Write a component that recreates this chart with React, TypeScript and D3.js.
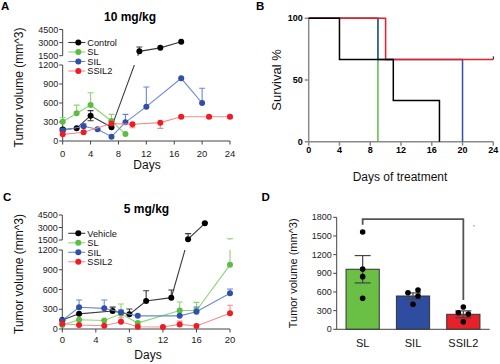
import React from 'react';
import * as d3 from 'd3';

const FONT = "'Liberation Sans', Arial, Helvetica, sans-serif";

// ---- Panel A: 10 mg/kg (tumor volume, mm^3) ----
const aControlDays = [0, 2, 4, 7, 11, 14, 17];
const aControlVals = [180, 200, 400, 216, 2000, 2400, 3100];
const aControlUp = [20, 0, 80, 100, 500, 0, 0];
const aControlDn = [20, 0, 80, 0, 0, 0, 0];

const aSLDays = [0, 2, 4, 7, 9];
const aSLVals = [305, 437, 568, 316, 110];
const aSLUp = [63, 130, 195, 105, 0];
const aSLDn = [0, 0, 0, 0, 0];

const aSILDays = [0, 3, 5, 7, 9, 12, 17, 20];
const aSILVals = [165, 232, 185, 68, 295, 542, 990, 600];
const aSILUp = [0, 40, 0, 0, 125, 310, 0, 232];
const aSILDn = [0, 0, 0, 0, 0, 0, 0, 0];

const aSSIL2Days = [0, 3, 7, 10, 14, 17, 21, 24];
const aSSIL2Vals = [105, 137, 275, 264, 290, 384, 384, 384];
const aSSIL2Up = [0, 0, 0, 0, 0, 15, 15, 15];
const aSSIL2Dn = [0, 0, 0, 54, 90, 25, 25, 25];

// ---- Panel C: 5 mg/kg ----
const cVehicleDays = [0, 2, 6, 8, 10, 13, 15, 17];
const cVehicleVals = [137, 230, 273, 223, 425, 476, 1600, 3500];
const cVehicleUp = [0, 0, 60, 80, 157, 116, 660, 100];
const cVehicleDn = [0, 0, 0, 0, 0, 0, 0, 0];

const cSLDays = [0, 2, 5, 7, 9, 14, 16, 20];
const cSLVals = [60, 140, 130, 230, 90, 280, 280, 975];
const cSLUp = [0, 0, 0, 150, 0, 130, 125, 680];
const cSLDn = [0, 0, 0, 0, 0, 0, 0, 0];

const cSILDays = [0, 2, 5, 7, 9, 14, 16, 20];
const cSILVals = [130, 330, 314, 254, 200, 200, 263, 542];
const cSILUp = [0, 110, 126, 35, 0, 0, 70, 65];
const cSILDn = [0, 0, 0, 0, 0, 0, 0, 0];

const cSSIL2Days = [0, 2, 5, 7, 9, 12, 14, 16, 20];
const cSSIL2Vals = [80, 60, 50, 110, 35, 30, 70, 45, 240];
const cSSIL2Up = [0, 0, 0, 60, 0, 0, 50, 0, 120];
const cSSIL2Dn = [0, 0, 0, 0, 0, 0, 0, 0, 0];

// ---- Panel B: survival (%) ----
const bControlDays = [0, 4, 11, 17];
const bControlSurv = [100, 66.7, 33.3, 0];
const bSLDays = [0, 9];
const bSLSurv = [100, 0];
const bSILDays = [0, 9, 20];
const bSILSurv = [100, 66.7, 0];
const bSSIL2Days = [0, 10, 24];
const bSSIL2Surv = [100, 66.7, 66.7];

// ---- Panel D: endpoint tumor volume ----
const dGroups = ['SL', 'SIL', 'SSIL2'];
const dMeans = [965, 535, 241];
const dSem = [220, 50, 55];
const dPoints = [
  [1564, 970, 846, 498],
  [588, 632, 535, 402],
  [358, 267, 246, 122],
];
const dJitter = [
  [0, 0, 0, 0],
  [-1, 1, 1, 0],
  [0, -1, 1, 0],
];
// bracket levels in data units
const dBracketTop = 1770;
const dBracketLeftEnd = 1680;
const dBracketRightEnd = 470;

const lowTicks = [0, 300, 600, 900, 1200];
const upTicks = [1500, 3000, 4500];

const COL = {
  black: { marker: '#000000', line: '#3a3a3a' },
  green: { marker: '#5cbc45', line: '#8fd372' },
  blue: { marker: '#2f4fa8', line: '#6d86cf' },
  red: { marker: '#ee1c25', line: '#f48a8a' },
};

const mk = (name, c, days, vals, up, dn) => ({ name, ...c, days, vals, up, dn });

const seriesA = [
  mk('Control', COL.black, aControlDays, aControlVals, aControlUp, aControlDn),
  mk('SL', COL.green, aSLDays, aSLVals, aSLUp, aSLDn),
  mk('SIL', COL.blue, aSILDays, aSILVals, aSILUp, aSILDn),
  mk('SSIL2', COL.red, aSSIL2Days, aSSIL2Vals, aSSIL2Up, aSSIL2Dn),
];
const seriesC = [
  mk('Vehicle', COL.black, cVehicleDays, cVehicleVals, cVehicleUp, cVehicleDn),
  mk('SL', COL.green, cSLDays, cSLVals, cSLUp, cSLDn),
  mk('SIL', COL.blue, cSILDays, cSILVals, cSILUp, cSILDn),
  mk('SSIL2', COL.red, cSSIL2Days, cSSIL2Vals, cSSIL2Up, cSSIL2Dn),
];

const AXIS = '#444';

const LinePanel = (p: any) => {
  const x = d3.scaleLinear().domain(p.xDomain).range(p.xRange);
  const yLow = d3.scaleLinear().domain([0, 1200]).range(p.lowRange);
  const yUp = d3.scaleLinear().domain([1500, 4500]).range(p.upRange);
  const y = (v: number) =>
    v <= 1200 ? yLow(v) : v >= 1500 ? yUp(v) : yLow(1200) + ((v - 1200) / 300) * (yUp(1500) - yLow(1200));
  const line = d3.line<number[]>().x(d => x(d[0])).y(d => y(d[1]));
  const x0 = p.xRange[0];
  const gapTop = yUp(1500);
  const gapBot = yLow(1200);
  const base = yLow(0);

  return (
    <g fontFamily={FONT}>
      <defs>
        <clipPath id={p.id}>
          <rect x={0} y={0} width={500} height={gapTop} />
          <rect x={0} y={gapBot} width={500} height={364 - gapBot} />
        </clipPath>
      </defs>
      <text x={p.letterX} y={p.letterY} fontSize={11.5} fontWeight="bold">{p.letter}</text>
      <text x={p.titleX} y={p.titleY} fontSize={12} fontWeight="bold" textAnchor="middle">{p.title}</text>

      {/* y axis lower segment */}
      <line x1={x0} x2={x0} y1={base} y2={gapBot} stroke={AXIS} strokeWidth={1} />
      {lowTicks.map(t => (
        <g key={'l' + t}>
          <line x1={x0 - 3.5} x2={x0} y1={yLow(t)} y2={yLow(t)} stroke={AXIS} />
          <text x={x0 - 4.5} y={yLow(t)} dy="0.35em" fontSize={9} textAnchor="end" fill="#222">{t}</text>
        </g>
      ))}
      {/* y axis upper segment */}
      <line x1={x0} x2={x0} y1={gapTop} y2={yUp(4500)} stroke={AXIS} strokeWidth={1} />
      {upTicks.map(t => (
        <g key={'u' + t}>
          <line x1={x0 - 3.5} x2={x0} y1={yUp(t)} y2={yUp(t)} stroke={AXIS} />
          <text x={x0 - 4.5} y={yUp(t)} dy="0.35em" fontSize={9} textAnchor="end" fill="#222">{t}</text>
        </g>
      ))}
      {/* x axis */}
      <line x1={x0} x2={p.xRange[1]} y1={base} y2={base} stroke={AXIS} />
      {p.xTicks.map(t => (
        <g key={'x' + t}>
          <line x1={x(t)} x2={x(t)} y1={base} y2={base + 3.5} stroke={AXIS} />
          <text x={x(t)} y={base + p.tickDy} fontSize={9.5} textAnchor="middle" fill="#222">{t}</text>
        </g>
      ))}
      <text x={p.xLabelX} y={p.xLabelY} fontSize={12} textAnchor="middle" fill="#111">Days</text>
      <text
        transform={`translate(${p.yLabelX},${p.yLabelY}) rotate(-90)`}
        fontSize={12}
        textAnchor="middle"
        dy="0.35em"
        fill="#111"
      >
        Tumor volume (mm^3)
      </text>

      {p.series.map(s => {
        const pts = s.days.map((d, i) => [d, s.vals[i]]);
        return (
          <g key={s.name}>
            <path d={line(pts) || ''} fill="none" stroke={s.line} strokeWidth={1.1} clipPath={`url(#${p.id})`} />
            <g clipPath={`url(#${p.id})`}>
              {s.days.map((d, i) => {
                const up = s.up[i];
                const dn = s.dn[i];
                if (!up && !dn) return null;
                const cx = x(d);
                const yt = y(s.vals[i] + up);
                const yb = y(s.vals[i] - dn);
                return (
                  <g key={i} stroke={s.line} strokeWidth={1.1}>
                    <line x1={cx} x2={cx} y1={yt} y2={yb} />
                    {up ? <line x1={cx - 3} x2={cx + 3} y1={yt} y2={yt} /> : null}
                    {dn ? <line x1={cx - 3} x2={cx + 3} y1={yb} y2={yb} /> : null}
                  </g>
                );
              })}
            </g>
            {s.days.map((d, i) => (
              <circle key={i} cx={x(d)} cy={y(s.vals[i])} r={3} fill={s.marker} />
            ))}
          </g>
        );
      })}

      {/* legend */}
      {p.series.map((s, i) => {
        const ly = p.legendY + i * p.legendStep;
        return (
          <g key={'lg' + s.name}>
            <line x1={p.legendX - 10} x2={p.legendX + 7} y1={ly} y2={ly} stroke={s.line} strokeWidth={1.1} />
            <circle cx={p.legendX} cy={ly} r={3} fill={s.marker} />
            <text x={p.legendX + 9} y={ly} dy="0.35em" fontSize={9.2} fill="#111">{s.name}</text>
          </g>
        );
      })}
    </g>
  );
};

const SurvivalPanel = () => {
  const x = d3.scaleLinear().domain([0, 24]).range([308.7, 493.3]);
  const y = d3.scaleLinear().domain([0, 100]).range([141.7, 18.3]);
  const step = d3.line<number[]>().x(d => x(d[0])).y(d => y(d[1])).curve(d3.curveStepAfter);
  const curves = [
    { color: '#5cbc45', days: bSLDays, surv: bSLSurv, end: 9 },
    { color: '#2f4fa8', days: bSILDays, surv: bSILSurv, end: 20 },
    { color: '#ee1c25', days: bSSIL2Days, surv: bSSIL2Surv, end: 24 },
    { color: '#000000', days: bControlDays, surv: bControlSurv, end: 17 },
  ];
  const ax = '#8a8a8a';
  return (
    <g fontFamily={FONT}>
      <text x={256} y={10} fontSize={11.5} fontWeight="bold">B</text>
      <line x1={x(0)} x2={x(0)} y1={y(0)} y2={y(100)} stroke={ax} strokeWidth={1.5} />
      <line x1={x(0)} x2={x(24)} y1={y(0)} y2={y(0)} stroke={ax} strokeWidth={1.5} />
      {[0, 50, 100].map(t => (
        <g key={'y' + t}>
          <line x1={x(0) - 4} x2={x(0)} y1={y(t)} y2={y(t)} stroke={ax} strokeWidth={1.5} />
          <text x={x(0) - 6} y={y(t)} dy="0.35em" fontSize={9} fontWeight="bold" textAnchor="end">{t}</text>
        </g>
      ))}
      {d3.range(0, 25, 4).map(t => (
        <g key={'x' + t}>
          <line x1={x(t)} x2={x(t)} y1={y(0)} y2={y(0) + 4} stroke={ax} strokeWidth={1.5} />
          <text x={x(t)} y={153} fontSize={9} fontWeight="bold" textAnchor="middle">{t}</text>
        </g>
      ))}
      {curves.map((c, i) => {
        const pts = c.days.map((d, j) => [d, c.surv[j]]);
        pts.push([c.end, c.surv[c.surv.length - 1]]);
        return <path key={i} d={step(pts) || ''} fill="none" stroke={c.color} strokeWidth={1.5} />;
      })}
      <line x1={x(24)} x2={x(24)} y1={y(66.7) - 3} y2={y(66.7)} stroke="#000" strokeWidth={1} />
      <text x={400} y={181} fontSize={12} textAnchor="middle" fill="#111">Days of treatment</text>
      <text transform="translate(276.5,80) rotate(-90)" fontSize={13} textAnchor="middle" dy="0.35em" fill="#111">
        Survival %
      </text>
    </g>
  );
};

const BarPanel = () => {
  const x = d3.scaleBand().domain(dGroups).range([337.5, 488.5]).paddingInner(0.34).paddingOuter(0.17);
  const y = d3.scaleLinear().domain([0, 1800]).range([329.3, 217.3]);
  const fills = ['#6abf45', '#2f4da0', '#e8202a'];
  const x0 = 336.7;
  const cx = (g: string) => (x(g) as number) + x.bandwidth() / 2;
  return (
    <g fontFamily={FONT}>
      <text x={261.5} y={200.5} fontSize={11.5} fontWeight="bold">D</text>
      {dGroups.map((g, i) => (
        <rect
          key={g}
          x={x(g)}
          y={y(dMeans[i])}
          width={x.bandwidth()}
          height={y(0) - y(dMeans[i])}
          fill={fills[i]}
          stroke="#333"
          strokeWidth={1}
        />
      ))}
      {dGroups.map((g, i) => {
        const c = cx(g);
        const yt = y(dMeans[i] + dSem[i]);
        const yb = y(dMeans[i] - dSem[i]);
        return (
          <g key={'e' + g} stroke="#444" strokeWidth={1.2}>
            <line x1={c} x2={c} y1={yt} y2={yb} />
            <line x1={c - 8} x2={c + 8} y1={yt} y2={yt} />
            <line x1={c - 8} x2={c + 8} y1={yb} y2={yb} />
          </g>
        );
      })}
      {dGroups.map((g, i) =>
        dPoints[i].map((v, j) => (
          <circle key={g + j} cx={cx(g) + dJitter[i][j] * 5} cy={y(v)} r={2.8} fill="#000" />
        ))
      )}
      {/* axes */}
      <line x1={x0} x2={x0} y1={y(0)} y2={y(1800)} stroke={AXIS} />
      <line x1={x0} x2={489.7} y1={y(0)} y2={y(0)} stroke={AXIS} />
      {d3.range(0, 1801, 300).map(t => (
        <g key={'t' + t}>
          <line x1={x0 - 3.5} x2={x0} y1={y(t)} y2={y(t)} stroke={AXIS} />
          <text x={x0 - 5} y={y(t)} dy="0.35em" fontSize={9} textAnchor="end" fill="#222">{t}</text>
        </g>
      ))}
      {dGroups.map(g => (
        <text key={'lb' + g} x={cx(g)} y={346.5} fontSize={11} textAnchor="middle" fill="#111">{g}</text>
      ))}
      <text transform="translate(292.7,273.3) rotate(-90)" fontSize={11} textAnchor="middle" dy="0.35em" fill="#111">
        Tumor volume (mm^3)
      </text>
      {/* significance bracket */}
      <path
        d={`M${cx('SL')},${y(dBracketLeftEnd)}V${y(dBracketTop)}H${cx('SSIL2')}V${y(dBracketRightEnd)}`}
        fill="none"
        stroke="#555"
        strokeWidth={1.8}
      />
      <circle cx={474} cy={225.7} r={0.8} fill="#999" />
    </g>
  );
};

export default function App() {
  return (
    <svg width={500} height={364} style={{ position: 'absolute', left: 0, top: 0, background: '#fff' }}>
      <rect width={500} height={364} fill="#fff" />
      <LinePanel
        id="clipA"
        series={seriesA}
        xDomain={[0, 24]}
        xRange={[62.7, 230]}
        xTicks={[0, 4, 8, 12, 16, 20, 24]}
        lowRange={[141, 65]}
        upRange={[55.7, 29.5]}
        tickDy={15.5}
        xLabelX={147}
        xLabelY={168.5}
        yLabelX={18.8}
        yLabelY={87.5}
        legendX={78.3}
        legendY={42.5}
        legendStep={9.5}
        title="10 mg/kg"
        titleX={130}
        titleY={20.5}
        letter="A"
        letterX={1}
        letterY={9.5}
      />
      <LinePanel
        id="clipC"
        series={seriesC}
        xDomain={[0, 20]}
        xRange={[62.3, 230]}
        xTicks={[0, 4, 8, 12, 16, 20]}
        lowRange={[329, 250]}
        upRange={[240, 215]}
        tickDy={14}
        xLabelX={148}
        xLabelY={358.5}
        yLabelX={18.8}
        yLabelY={274}
        legendX={78.3}
        legendY={233.3}
        legendStep={9.5}
        title="5 mg/kg"
        titleX={146.5}
        titleY={213.3}
        letter="C"
        letterX={3}
        letterY={200.5}
      />
      <SurvivalPanel />
      <BarPanel />
    </svg>
  );
}
